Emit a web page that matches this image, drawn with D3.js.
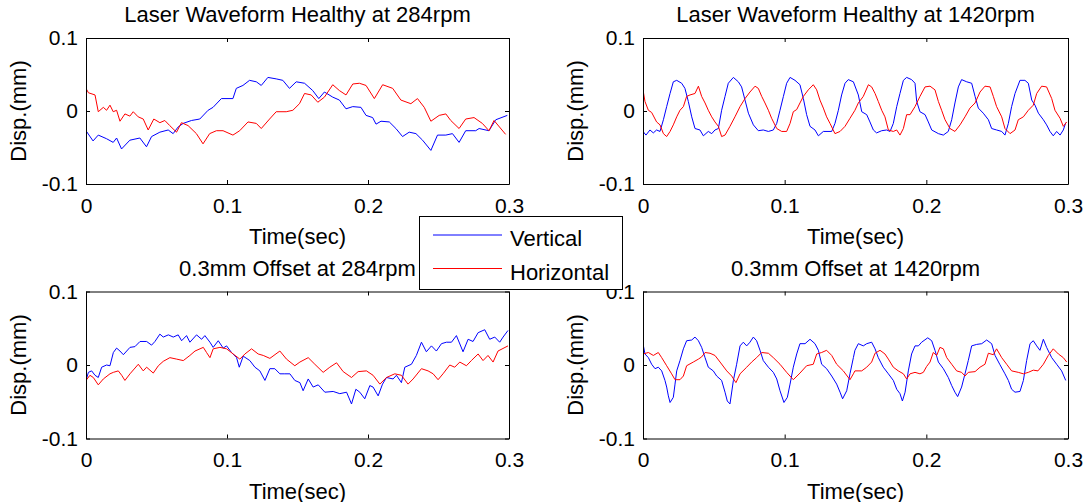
<!DOCTYPE html>
<html><head><meta charset="utf-8">
<script src="https://cdn.jsdelivr.net/npm/d3@7"></script>
<style>
html,body{margin:0;padding:0;background:#fff;}
svg text{font-family:"Liberation Sans",Arial,sans-serif;fill:#000;}
</style>
</head><body>
<svg id="chart" width="1085" height="502"></svg>
<script>
// ---- data (time in s, displacement in mm) ----
const xTicks = [0, 0.1, 0.2, 0.3];
const yTicks = [-0.1, 0, 0.1];
const xTickLabels = ["0", "0.1", "0.2", "0.3"];
const yTickLabels = ["-0.1", "0", "0.1"];
const titles = ["Laser Waveform Healthy at 284rpm", "Laser Waveform Healthy at 1420rpm", "0.3mm Offset at 284rpm", "0.3mm Offset at 1420rpm"];
const seriesNames = ["Vertical", "Horizontal"];
const xLabel = "Time(sec)";
const yLabel = "Disp.(mm)";

const healthy284Vertical = [[0,-0.027],[0.0050,-0.041],[0.0087,-0.033],[0.0146,-0.038],[0.0193,-0.043],[0.0217,-0.037],[0.0252,-0.052],[0.0311,-0.040],[0.0382,-0.037],[0.0429,-0.049],[0.0465,-0.035],[0.0524,-0.029],[0.0583,-0.026],[0.0618,-0.031],[0.0653,-0.022],[0.0689,-0.017],[0.0748,-0.013],[0.0807,-0.011],[0.0866,0.001],[0.0901,0.005],[0.0960,0.017],[0.1042,0.017],[0.1066,0.031],[0.1113,0.035],[0.1160,0.042],[0.1208,0.040],[0.1243,0.035],[0.1290,0.046],[0.1349,0.044],[0.1396,0.042],[0.1443,0.031],[0.1491,0.040],[0.1550,0.038],[0.1608,0.028],[0.1651,0.017],[0.1691,0.026],[0.1750,0.019],[0.1797,0.015],[0.1844,0.003],[0.1892,0.006],[0.1950,0.005],[0.1986,-0.006],[0.2033,-0.009],[0.2057,-0.018],[0.2092,-0.014],[0.2151,-0.015],[0.2198,-0.024],[0.2245,-0.035],[0.2292,-0.029],[0.2340,-0.031],[0.2387,-0.040],[0.2446,-0.054],[0.2493,-0.033],[0.2552,-0.033],[0.2599,-0.031],[0.2646,-0.043],[0.2693,-0.027],[0.2764,-0.027],[0.2788,-0.024],[0.2858,-0.027],[0.2906,-0.012],[0.2988,-0.006]];
const healthy284Horizontal = [[0,0.031],[0.0017,0.025],[0.0064,0.022],[0.0087,-0.001],[0.0123,0.005],[0.0146,0.001],[0.0170,0.008],[0.0193,-0.001],[0.0217,0.001],[0.0241,-0.014],[0.0276,-0.004],[0.0311,-0.007],[0.0335,-0.001],[0.0370,-0.008],[0.0406,-0.011],[0.0441,-0.026],[0.0481,-0.011],[0.0524,-0.016],[0.0559,-0.013],[0.0594,-0.020],[0.0642,-0.029],[0.0677,-0.016],[0.0724,-0.020],[0.0783,-0.031],[0.0830,-0.045],[0.0877,-0.031],[0.0925,-0.027],[0.0972,-0.027],[0.1042,-0.033],[0.1090,-0.027],[0.1149,-0.015],[0.1208,-0.017],[0.1243,-0.024],[0.1302,-0.011],[0.1349,-0.001],[0.1420,-0.001],[0.1467,0.001],[0.1514,0.010],[0.1550,0.024],[0.1597,0.022],[0.1644,0.012],[0.1691,0.019],[0.1750,0.036],[0.1797,0.028],[0.1844,0.022],[0.1892,0.037],[0.1939,0.038],[0.1986,0.035],[0.2045,0.017],[0.2104,0.036],[0.2175,0.031],[0.2233,0.015],[0.2304,0.010],[0.2351,0.017],[0.2399,0.005],[0.2446,-0.014],[0.2505,-0.006],[0.2552,-0.004],[0.2587,-0.013],[0.2646,-0.024],[0.2693,-0.011],[0.2752,-0.009],[0.2811,-0.017],[0.2858,-0.027],[0.2894,-0.013],[0.2976,-0.032]];
const healthy1420Vertical = [[0,-0.028],[0.0021,-0.033],[0.0049,-0.026],[0.0073,-0.030],[0.0096,-0.026],[0.0120,-0.028],[0.0144,-0.012],[0.0167,0.006],[0.0191,0.024],[0.0214,0.040],[0.0238,0.042],[0.0273,0.038],[0.0296,0.031],[0.0320,0.013],[0.0344,-0.008],[0.0367,-0.024],[0.0402,-0.026],[0.0426,-0.034],[0.0461,-0.028],[0.0485,-0.031],[0.0508,-0.026],[0.0532,-0.024],[0.0555,0.001],[0.0579,0.020],[0.0602,0.038],[0.0638,0.046],[0.0673,0.040],[0.0696,0.033],[0.0720,0.015],[0.0744,-0.003],[0.0779,-0.019],[0.0814,-0.027],[0.0849,-0.026],[0.0885,-0.028],[0.0920,-0.026],[0.0944,-0.017],[0.0967,0.001],[0.0991,0.020],[0.1014,0.038],[0.1038,0.046],[0.1073,0.042],[0.1108,0.036],[0.1132,0.017],[0.1155,-0.005],[0.1179,-0.021],[0.1214,-0.026],[0.1238,-0.034],[0.1273,-0.028],[0.1332,-0.028],[0.1355,-0.017],[0.1379,0.001],[0.1402,0.022],[0.1426,0.038],[0.1449,0.043],[0.1485,0.040],[0.1520,0.022],[0.1544,-0.001],[0.1579,-0.005],[0.1602,-0.015],[0.1626,-0.026],[0.1649,-0.030],[0.1685,-0.027],[0.1720,-0.026],[0.1744,-0.028],[0.1767,-0.017],[0.1791,0.006],[0.1814,0.024],[0.1838,0.042],[0.1861,0.046],[0.1896,0.043],[0.1920,0.038],[0.1932,0.013],[0.1955,-0.001],[0.1991,-0.005],[0.2014,-0.015],[0.2038,-0.026],[0.2085,-0.031],[0.2120,-0.033],[0.2155,-0.028],[0.2179,-0.012],[0.2202,0.011],[0.2226,0.033],[0.2249,0.043],[0.2285,0.040],[0.2320,0.038],[0.2344,0.020],[0.2367,0.004],[0.2402,-0.003],[0.2438,-0.012],[0.2461,-0.024],[0.2496,-0.026],[0.2532,-0.028],[0.2555,-0.033],[0.2579,-0.017],[0.2602,0.006],[0.2626,0.024],[0.2661,0.042],[0.2696,0.042],[0.2720,0.038],[0.2744,0.015],[0.2767,0.008],[0.2791,-0.003],[0.2826,-0.012],[0.2849,-0.019],[0.2873,-0.028],[0.2896,-0.034],[0.2920,-0.028],[0.2944,-0.033],[0.2967,-0.026],[0.2984,-0.016]];
const healthy1420Horizontal = [[0,0.029],[0.0014,0.013],[0.0038,0.001],[0.0061,-0.002],[0.0096,-0.015],[0.0120,-0.019],[0.0144,-0.031],[0.0167,-0.035],[0.0191,-0.028],[0.0214,-0.019],[0.0238,-0.008],[0.0261,0.001],[0.0285,0.006],[0.0308,0.020],[0.0332,0.022],[0.0367,0.024],[0.0391,0.034],[0.0414,0.020],[0.0438,0.011],[0.0461,0.001],[0.0485,-0.008],[0.0508,-0.015],[0.0532,-0.021],[0.0555,-0.035],[0.0579,-0.033],[0.0614,-0.021],[0.0649,-0.008],[0.0685,0.006],[0.0720,0.017],[0.0755,0.026],[0.0791,0.034],[0.0814,0.031],[0.0838,0.020],[0.0861,0.011],[0.0885,0.001],[0.0908,-0.010],[0.0944,-0.024],[0.0979,-0.028],[0.1014,-0.028],[0.1038,-0.017],[0.1061,-0.001],[0.1085,0.002],[0.1108,0.011],[0.1132,0.020],[0.1167,0.029],[0.1202,0.036],[0.1226,0.029],[0.1249,0.015],[0.1273,0.004],[0.1296,-0.008],[0.1320,-0.017],[0.1355,-0.031],[0.1391,-0.028],[0.1426,-0.021],[0.1461,-0.010],[0.1496,0.001],[0.1520,0.011],[0.1555,0.020],[0.1591,0.036],[0.1614,0.033],[0.1638,0.024],[0.1661,0.013],[0.1685,0.001],[0.1708,-0.008],[0.1732,-0.026],[0.1767,-0.028],[0.1791,-0.026],[0.1814,-0.033],[0.1838,-0.024],[0.1861,-0.005],[0.1885,-0.005],[0.1920,0.006],[0.1955,0.020],[0.1991,0.033],[0.2026,0.034],[0.2061,0.029],[0.2085,0.013],[0.2108,0.001],[0.2132,-0.012],[0.2167,-0.024],[0.2202,-0.028],[0.2238,-0.019],[0.2273,-0.008],[0.2308,0.004],[0.2344,0.011],[0.2379,0.026],[0.2414,0.034],[0.2450,0.033],[0.2473,0.020],[0.2496,0.006],[0.2532,-0.008],[0.2555,-0.024],[0.2591,-0.031],[0.2626,-0.026],[0.2649,-0.012],[0.2685,-0.008],[0.2720,0.001],[0.2755,0.008],[0.2779,0.024],[0.2814,0.034],[0.2849,0.033],[0.2885,0.017],[0.2908,0.001],[0.2944,-0.010],[0.2967,-0.021],[0.2991,-0.015]];
const offset284Vertical = [[0,-0.021],[0.0017,-0.010],[0.0040,-0.008],[0.0064,-0.014],[0.0087,-0.017],[0.0111,-0.003],[0.0146,0.000],[0.0170,-0.001],[0.0194,0.017],[0.0217,0.023],[0.0241,0.019],[0.0265,0.014],[0.0312,0.024],[0.0347,0.025],[0.0383,0.032],[0.0430,0.032],[0.0465,0.027],[0.0489,0.032],[0.0524,0.042],[0.0548,0.038],[0.0584,0.041],[0.0619,0.038],[0.0654,0.041],[0.0678,0.033],[0.0713,0.040],[0.0737,0.031],[0.0784,0.041],[0.0820,0.035],[0.0843,0.040],[0.0879,0.031],[0.0902,0.024],[0.0938,0.033],[0.0973,0.023],[0.0997,0.026],[0.1032,0.017],[0.1068,0.010],[0.1087,-0.003],[0.1115,0.012],[0.1162,0.006],[0.1198,-0.003],[0.1233,-0.008],[0.1269,-0.021],[0.1304,-0.005],[0.1339,-0.005],[0.1375,-0.012],[0.1410,-0.012],[0.1446,-0.012],[0.1481,-0.021],[0.1517,-0.024],[0.1540,-0.035],[0.1576,-0.019],[0.1611,-0.030],[0.1647,-0.027],[0.1694,-0.037],[0.1753,-0.036],[0.1800,-0.039],[0.1848,-0.037],[0.1883,-0.053],[0.1914,-0.033],[0.1942,-0.037],[0.1977,-0.046],[0.2013,-0.028],[0.2036,-0.030],[0.2072,-0.042],[0.2103,-0.026],[0.2131,-0.017],[0.2178,-0.019],[0.2202,-0.014],[0.2237,-0.024],[0.2261,-0.003],[0.2308,0.001],[0.2343,0.013],[0.2379,0.031],[0.2414,0.018],[0.2450,0.026],[0.2485,0.019],[0.2521,0.029],[0.2556,0.031],[0.2592,0.031],[0.2627,0.040],[0.2674,0.018],[0.2710,0.035],[0.2745,0.032],[0.2781,0.044],[0.2828,0.048],[0.2863,0.035],[0.2899,0.038],[0.2934,0.031],[0.2958,0.038],[0.2993,0.047]];
const offset284Horizontal = [[0,-0.021],[0.0028,-0.014],[0.0052,-0.017],[0.0087,-0.027],[0.0123,-0.019],[0.0170,-0.012],[0.0194,-0.010],[0.0229,-0.008],[0.0253,-0.014],[0.0276,-0.021],[0.0312,-0.012],[0.0371,0.001],[0.0406,-0.008],[0.0430,-0.003],[0.0477,-0.011],[0.0513,-0.001],[0.0548,0.005],[0.0595,0.010],[0.0643,0.008],[0.0690,0.006],[0.0737,0.013],[0.0773,0.019],[0.0832,0.024],[0.0855,0.017],[0.0879,0.010],[0.0902,0.022],[0.0950,0.024],[0.0997,0.022],[0.1044,0.015],[0.1091,0.008],[0.1127,0.015],[0.1174,0.022],[0.1221,0.015],[0.1257,0.013],[0.1304,0.009],[0.1375,0.019],[0.1422,0.008],[0.1481,-0.001],[0.1517,0.004],[0.1576,0.010],[0.1623,0.001],[0.1682,-0.010],[0.1729,-0.003],[0.1777,0.003],[0.1824,-0.009],[0.1883,-0.017],[0.1930,-0.009],[0.1989,-0.008],[0.2036,-0.014],[0.2084,-0.026],[0.2131,-0.017],[0.2190,-0.012],[0.2237,-0.014],[0.2284,-0.026],[0.2320,-0.019],[0.2379,-0.005],[0.2426,-0.008],[0.2462,-0.012],[0.2497,-0.020],[0.2532,-0.012],[0.2580,0.000],[0.2615,-0.003],[0.2651,0.004],[0.2698,-0.001],[0.2733,0.006],[0.2781,0.015],[0.2816,0.006],[0.2851,0.013],[0.2887,0.004],[0.2922,0.019],[0.2993,0.026]];
const offset1420Vertical = [[0,0.029],[0.0014,0.015],[0.0038,0.010],[0.0061,0.001],[0.0085,-0.005],[0.0108,-0.003],[0.0132,-0.008],[0.0155,-0.021],[0.0167,-0.030],[0.0179,-0.042],[0.0191,-0.051],[0.0214,-0.044],[0.0226,-0.026],[0.0238,-0.008],[0.0261,0.006],[0.0285,0.022],[0.0308,0.033],[0.0344,0.034],[0.0367,0.038],[0.0391,0.033],[0.0414,0.024],[0.0438,0.010],[0.0461,-0.003],[0.0496,-0.008],[0.0520,-0.015],[0.0555,-0.021],[0.0579,-0.037],[0.0595,-0.049],[0.0614,-0.053],[0.0638,-0.021],[0.0661,0.001],[0.0685,0.026],[0.0708,0.031],[0.0732,0.026],[0.0755,0.031],[0.0779,0.038],[0.0802,0.033],[0.0826,0.020],[0.0849,0.006],[0.0885,-0.003],[0.0920,-0.010],[0.0944,-0.019],[0.0967,-0.035],[0.0995,-0.051],[0.1019,-0.044],[0.1038,-0.026],[0.1061,-0.003],[0.1085,0.015],[0.1108,0.029],[0.1144,0.029],[0.1179,0.035],[0.1214,0.029],[0.1238,0.020],[0.1261,0.001],[0.1296,-0.005],[0.1332,-0.015],[0.1367,-0.026],[0.1391,-0.037],[0.1409,-0.046],[0.1438,-0.035],[0.1461,-0.012],[0.1485,0.010],[0.1496,0.020],[0.1520,0.029],[0.1555,0.026],[0.1579,0.029],[0.1614,0.031],[0.1638,0.022],[0.1661,0.010],[0.1696,-0.003],[0.1732,-0.012],[0.1767,-0.021],[0.1791,-0.033],[0.1814,-0.039],[0.1831,-0.049],[0.1850,-0.037],[0.1873,-0.008],[0.1896,0.015],[0.1920,0.026],[0.1944,0.026],[0.1967,0.031],[0.2010,0.037],[0.2038,0.033],[0.2061,0.020],[0.2085,0.004],[0.2120,-0.005],[0.2155,-0.017],[0.2179,-0.028],[0.2202,-0.037],[0.2221,-0.043],[0.2249,-0.030],[0.2273,-0.012],[0.2296,0.006],[0.2320,0.026],[0.2355,0.028],[0.2391,0.029],[0.2426,0.034],[0.2461,0.029],[0.2485,0.013],[0.2518,0.001],[0.2555,-0.012],[0.2579,-0.021],[0.2602,-0.033],[0.2626,-0.037],[0.2661,-0.036],[0.2685,-0.021],[0.2708,0.006],[0.2732,0.029],[0.2755,0.033],[0.2779,0.026],[0.2802,0.020],[0.2826,0.035],[0.2849,0.024],[0.2885,0.010],[0.2920,0.001],[0.2955,-0.008],[0.2984,-0.021]];
const offset1420Horizontal = [[0,0.015],[0.0038,0.017],[0.0073,0.013],[0.0108,0.017],[0.0132,0.010],[0.0167,-0.001],[0.0202,-0.012],[0.0226,-0.020],[0.0261,-0.020],[0.0285,-0.015],[0.0308,-0.001],[0.0355,0.004],[0.0391,0.008],[0.0414,0.011],[0.0438,0.017],[0.0473,0.016],[0.0508,0.013],[0.0544,0.004],[0.0591,-0.008],[0.0626,-0.015],[0.0656,-0.024],[0.0685,-0.012],[0.0732,-0.003],[0.0767,0.004],[0.0802,0.010],[0.0838,0.017],[0.0885,0.016],[0.0920,0.010],[0.0967,0.001],[0.1014,-0.010],[0.1061,-0.020],[0.1108,-0.011],[0.1155,-0.001],[0.1202,0.001],[0.1226,0.015],[0.1261,0.017],[0.1296,0.020],[0.1332,0.013],[0.1367,0.001],[0.1414,-0.008],[0.1461,-0.020],[0.1485,-0.012],[0.1496,-0.008],[0.1544,-0.008],[0.1579,-0.003],[0.1614,0.004],[0.1638,0.016],[0.1673,0.020],[0.1708,0.015],[0.1732,0.008],[0.1767,-0.003],[0.1802,-0.008],[0.1838,-0.012],[0.1861,-0.019],[0.1885,-0.012],[0.1920,-0.010],[0.1955,-0.012],[0.1979,-0.010],[0.2002,-0.002],[0.2026,0.004],[0.2049,0.017],[0.2073,0.013],[0.2096,0.024],[0.2120,0.022],[0.2144,0.010],[0.2179,0.001],[0.2214,-0.008],[0.2249,-0.010],[0.2273,-0.015],[0.2296,-0.010],[0.2344,-0.009],[0.2379,-0.003],[0.2414,0.001],[0.2438,0.016],[0.2473,0.014],[0.2496,0.022],[0.2532,0.010],[0.2567,0.001],[0.2602,-0.008],[0.2649,-0.010],[0.2685,-0.012],[0.2720,-0.010],[0.2755,-0.007],[0.2788,-0.008],[0.2826,0.001],[0.2861,0.013],[0.2896,0.022],[0.2932,0.015],[0.2967,0.010],[0.2991,0.004]];

// ---- layout ----
const svg = d3.select("#chart");
const FS = 22, TFS = 21;
const colors = ["#0000ff", "#ff0000"];
const panels = [
  {x0: 86,  x1: 509,  y0: 38,  y1: 184, data: [healthy284Vertical, healthy284Horizontal]},
  {x0: 643, x1: 1068, y0: 38,  y1: 184, data: [healthy1420Vertical, healthy1420Horizontal]},
  {x0: 86,  x1: 509,  y0: 291.5, y1: 438.5, data: [offset284Vertical, offset284Horizontal]},
  {x0: 643, x1: 1068, y0: 291.5, y1: 438.5, data: [offset1420Vertical, offset1420Horizontal]}
];

panels.forEach((p, i) => {
  const x = d3.scaleLinear().domain([0, 0.3]).range([p.x0, p.x1]);
  const y = d3.scaleLinear().domain([-0.1, 0.1]).range([p.y1, p.y0]);
  const g = svg.append("g");
  const clipId = "clip" + i;
  svg.append("clipPath").attr("id", clipId).append("rect")
    .attr("x", p.x0).attr("y", p.y0).attr("width", p.x1 - p.x0).attr("height", p.y1 - p.y0);

  const line = d3.line().x(d => x(d[0])).y(d => y(d[1]));
  p.data.forEach((s, k) => {
    g.append("path").datum(s).attr("d", line)
      .attr("clip-path", `url(#${clipId})`)
      .attr("fill", "none").attr("stroke", colors[k]).attr("stroke-width", 1);
  });

  const xl = i => xTickLabels[xTicks.indexOf(i)];
  const yl = i => yTickLabels[yTicks.indexOf(i)];
  const styleAxis = a => {
    a.selectAll("path,line").attr("stroke", "#000").attr("stroke-width", 1);
    a.selectAll("text").style("font-size", TFS + "px").attr("fill", "#000")
      .style("font-family", '"Liberation Sans", Arial, sans-serif');
  };
  g.append("g").attr("transform", `translate(0,${p.y1})`)
    .call(d3.axisBottom(x).tickValues(xTicks).tickFormat(xl).tickSizeInner(-4).tickSizeOuter(0).tickPadding(14))
    .call(styleAxis);
  g.append("g").attr("transform", `translate(0,${p.y0})`)
    .call(d3.axisTop(x).tickValues(xTicks).tickFormat("").tickSizeInner(-4).tickSizeOuter(0))
    .call(styleAxis);
  g.append("g").attr("transform", `translate(${p.x0},0)`)
    .call(d3.axisLeft(y).tickValues(yTicks).tickFormat(yl).tickSizeInner(-4).tickSizeOuter(0).tickPadding(8))
    .call(styleAxis);
  g.append("g").attr("transform", `translate(${p.x1},0)`)
    .call(d3.axisRight(y).tickValues(yTicks).tickFormat("").tickSizeInner(-4).tickSizeOuter(0))
    .call(styleAxis);

  const cx = (p.x0 + p.x1) / 2;
  g.append("text").attr("x", cx).attr("y", p.y0 - 16).attr("text-anchor", "middle")
    .style("font-size", FS + "px").text(titles[i]);
  g.append("text").attr("x", cx).attr("y", p.y1 + 60).attr("text-anchor", "middle")
    .style("font-size", FS + "px").text(xLabel);
  g.append("text").attr("transform", `translate(${p.x0 - 60},${(p.y0 + p.y1) / 2}) rotate(-90)`)
    .attr("text-anchor", "middle").style("font-size", FS + "px").text(yLabel);
});

// legend
const lg = svg.append("g");
lg.append("rect").attr("x", 419.5).attr("y", 216.5).attr("width", 203).attr("height", 73)
  .attr("fill", "#fff").attr("stroke", "#000").attr("stroke-width", 1);
seriesNames.forEach((n, k) => {
  const ly = 235 + k * 33.5;
  lg.append("line").attr("x1", 433).attr("x2", 502).attr("y1", ly).attr("y2", ly)
    .attr("stroke", colors[k]).attr("stroke-width", 1);
  lg.append("text").attr("x", 510).attr("y", ly + 11).style("font-size", FS + "px").text(n);
});
</script>
</body></html>
